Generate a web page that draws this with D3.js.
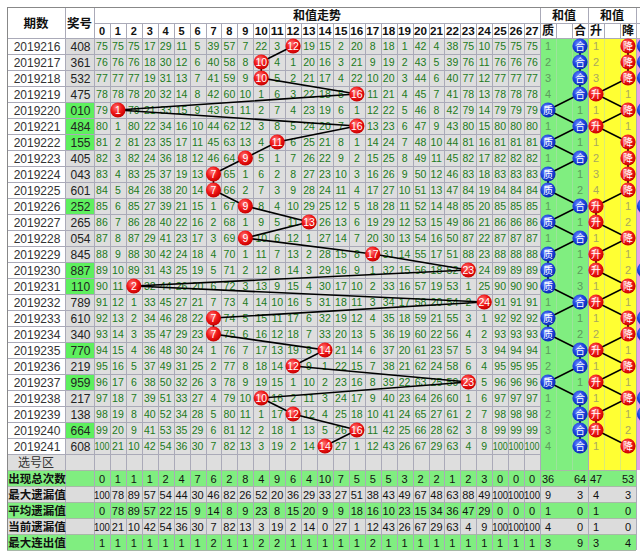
<!DOCTYPE html>
<html><head><meta charset="utf-8">
<script src="https://cdn.jsdelivr.net/npm/d3@7/dist/d3.min.js"></script>
<style>body{margin:0;background:#fff}svg{display:block}</style>
</head><body>
<svg id="c" width="640" height="554"></svg>
<script>
// ---------- data ----------
const periods = ["2019216","2019217","2019218","2019219","2019220","2019221","2019222","2019223","2019224","2019225","2019226","2019227","2019228","2019229","2019230","2019231","2019232","2019233","2019234","2019235","2019236","2019237","2019238","2019239","2019240","2019241"];
const numbers = ["408","361","532","475","010","484","155","405","043","601","252","265","054","845","887","110","789","610","340","770","219","959","217","138","664","608"];
const groupThree = [false,false,false,false,true,true,true,false,false,false,true,false,false,false,true,true,false,false,false,true,false,true,false,false,true,false];
const sums = [12,10,10,16,1,16,11,9,7,7,9,13,9,17,23,2,24,7,7,14,12,23,10,12,16,14];
const sumTicks = [0,1,2,3,4,5,6,7,8,9,10,11,12,13,14,15,16,17,18,19,20,21,22,23,24,25,26,27];
// omission values shown in the first row (2019216)
const firstRowMiss = [75,75,75,17,29,11,5,39,57,7,22,3,null,19,15,2,20,8,18,1,42,4,38,75,10,75,75,75];
const zhihe = ["合","合","合","合","质","合","质","合","质","质","合","质","合","质","质","质","合","质","质","合","合","质","合","合","合","合"];
const shengjiang = ["降","降","降","升","降","升","降","降","降","降","升","升","降","升","升","降","升","降","降","升","降","升","降","升","升","降"];
// rows where the cut-off section at the right edge shows a blue ball in its first column
const edgeBlue = [true,true,true,false,true,false,false,false,false,false,true,false,false,false,true,false,false,true,true,false,false,false,true,true,false,false];
const zhiheCols = ["质","","合"];
const sjCols = ["升","","降"];
const statLabels = ["出现总次数","最大遗漏值","平均遗漏值","当前遗漏值","最大连出值"];
const statTotal  = [0,1,1,1,2,4,7,6,2,8,4,9,6,4,10,7,5,5,5,3,2,2,1,2,3,0,0,0];
const statMaxMiss= [100,78,89,57,54,44,30,46,82,26,52,20,36,29,33,27,51,38,43,49,67,48,63,88,49,100,100,100];
const statAvgMiss= [0,78,89,57,22,15,9,14,8,9,23,8,15,20,9,9,18,16,10,23,15,34,36,47,29,0,0,0];
const statCurMiss= [100,21,10,42,54,36,30,7,82,13,3,19,2,14,0,27,1,12,43,26,67,29,63,4,9,100,100,100];
const statMaxRun = [1,1,1,1,1,1,1,2,1,1,2,2,1,1,1,1,1,2,1,1,1,1,1,1,1,1,1,1];
// right-side stats: [质, 合, 升, 降]
const statRight = [[36,64,47,53],[9,3,4,3],[1,0,1,0],[4,0,1,0],[3,9,3,4]];

// ---------- layout ----------
const svg = d3.select("#c");
const X0=7, XP=65, XN=94, XS=540, XM=588, XR=636, XE=652;
const Y0=7, YH=23, YD=38, RH=16;
const FONT = "'Liberation Sans', Arial, sans-serif";
const CJK = "'Noto Sans CJK SC', sans-serif";
const yRow = d3.scaleBand().domain(periods).range([YD, YD+RH*periods.length]);
const YSel = YD + RH*periods.length;       // 选号区 row top
const yStat = d3.scaleBand().domain(statLabels).range([YSel+RH, YSel+RH+RH*statLabels.length]);
const YB = YSel+RH+RH*statLabels.length;
const xSum = d3.scaleBand().domain(sumTicks).range([XN, XS]);
const xZH = d3.scaleBand().domain([0,1,2]).range([XS, XM]);
const xSJ = d3.scaleBand().domain([0,1,2]).range([XM, XR]);
const cy = p => yRow(p) + RH/2;

// defs
const defs = svg.append("defs");
function grad(id, c1, c2, c3){
  const g = defs.append("radialGradient").attr("id",id).attr("cx","40%").attr("cy","35%").attr("r","65%");
  g.append("stop").attr("offset","0%").attr("stop-color",c1);
  g.append("stop").attr("offset","55%").attr("stop-color",c2);
  g.append("stop").attr("offset","100%").attr("stop-color",c3);
}
grad("gr","#ff7a7a","#f01818","#c80000");
grad("gb","#6f8cff","#1f45e0","#0a2bb0");

// backgrounds
svg.append("rect").attr("width",640).attr("height",554).attr("fill","#fff");
const bg = svg.append("g");
bg.selectAll("rect.num").data(periods).join("rect")
  .attr("x",XP).attr("y",d=>yRow(d)).attr("width",XN-XP).attr("height",RH)
  .attr("fill",(d,i)=>groupThree[i]?"#5ef05e":"#dcdcdc");
bg.append("rect").attr("x",XN).attr("y",YD).attr("width",XS-XN).attr("height",YSel+RH-YD).attr("fill","#dedede");
bg.append("rect").attr("x",X0).attr("y",YSel).attr("width",XN-X0).attr("height",RH).attr("fill","#dedede");
bg.append("rect").attr("x",XS).attr("y",YD).attr("width",XM-XS).attr("height",YSel+RH-YD).attr("fill","#80ee80");
bg.append("rect").attr("x",XM).attr("y",YD).attr("width",XR-XM).attr("height",YSel+RH-YD).attr("fill","#ffff33");
bg.append("rect").attr("x",XR+1).attr("y",YD).attr("width",XE-XR).attr("height",YSel+RH-YD).attr("fill","#e8a0e8");
statLabels.forEach((s,i)=>{
  bg.append("rect").attr("x",X0).attr("y",yStat(s)).attr("width",XR-X0).attr("height",RH)
    .attr("fill", i%2===0 ? "#80ee80" : "#dcdcdc");
});

// grid lines
const grid = svg.append("g").attr("stroke","#aaaab8").attr("stroke-width",1).attr("shape-rendering","crispEdges");
const hY = periods.map(p=>yRow(p)).concat([YSel, YSel+RH]);
grid.selectAll("line.h").data(hY).join("line")
  .attr("x1",X0).attr("x2",XS).attr("y1",d=>d+0.5).attr("y2",d=>d+0.5);
grid.selectAll("line.hs").data(statLabels.map(s=>yStat(s)).concat([YB])).join("line")
  .attr("x1",X0).attr("x2",XR).attr("y1",d=>d+0.5).attr("y2",d=>d+0.5).attr("stroke","#a8b8a8");
grid.selectAll("line.v").data(sumTicks.slice(1)).join("line")
  .attr("x1",d=>Math.round(xSum(d))+0.5).attr("x2",d=>Math.round(xSum(d))+0.5).attr("y1",YH).attr("y2",YB);
[XP,XN,XS,XM,XR].forEach(x=>{
  grid.append("line").attr("x1",x+0.5).attr("x2",x+0.5).attr("y1",Y0).attr("y2",YB);
});
[xZH, xSJ].forEach(sc=>{
  [1,2].forEach(k=>{
    const x=Math.round(sc(k))+0.5;
    grid.append("line").attr("x1",x).attr("x2",x).attr("y1",YH).attr("y2",YD).attr("stroke","#aaaab8");
    grid.append("line").attr("x1",x).attr("x2",x).attr("y1",YD).attr("y2",YSel+RH).attr("stroke","#b8d8b8").attr("stroke-opacity",0.5);
  });
});
grid.append("line").attr("x1",X0).attr("x2",XE).attr("y1",Y0+0.5).attr("y2",Y0+0.5).attr("stroke","#888");
grid.append("line").attr("x1",XN).attr("x2",XE).attr("y1",YH+0.5).attr("y2",YH+0.5);
grid.append("line").attr("x1",X0).attr("x2",XE).attr("y1",YD+0.5).attr("y2",YD+0.5);
grid.append("line").attr("x1",X0+0.5).attr("x2",X0+0.5).attr("y1",Y0).attr("y2",YB).attr("stroke","#888");

// header text
const hdr = svg.append("g").attr("font-family",CJK).attr("font-weight","bold").attr("fill","#111").attr("text-anchor","middle");
hdr.append("text").attr("x",(X0+XP)/2).attr("y",(Y0+YD)/2+5).attr("font-size",12.5).text("期数");
hdr.append("text").attr("x",(XP+XN)/2).attr("y",(Y0+YD)/2+5).attr("font-size",12.5).text("奖号");
hdr.append("text").attr("x",(XN+XS)/2).attr("y",YH-3).attr("font-size",12).text("和值走势");
hdr.append("text").attr("x",(XS+XM)/2).attr("y",YH-3).attr("font-size",12).text("和值");
hdr.append("text").attr("x",(XM+XR)/2).attr("y",YH-3).attr("font-size",12).text("和值");
hdr.selectAll("text.t").data(sumTicks).join("text")
  .attr("x",d=>xSum(d)+xSum.bandwidth()/2).attr("y",YD-3.5)
  .attr("font-family",FONT).attr("font-size",11).text(d=>d)
  .each(function(d){ if(String(d).length>1) d3.select(this).attr("textLength",13).attr("lengthAdjust","spacingAndGlyphs"); });
hdr.selectAll("text.zh").data(zhiheCols).join("text")
  .attr("x",(d,i)=>xZH(i)+8).attr("y",YD-3.5).attr("font-size",12).text(d=>d);
hdr.selectAll("text.sj").data(sjCols).join("text")
  .attr("x",(d,i)=>xSJ(i)+8).attr("y",YD-3.5).attr("font-size",12).text(d=>d);

// period & number text
const tx = svg.append("g").attr("font-family",FONT).attr("text-anchor","middle");
tx.selectAll("text.p").data(periods).join("text")
  .attr("x",(X0+XP)/2+1).attr("y",d=>cy(d)+4.5).attr("font-size",12).attr("fill","#333").text(d=>d);
tx.selectAll("text.n").data(numbers).join("text")
  .attr("x",(XP+XN)/2+1).attr("y",(d,i)=>cy(periods[i])+4.5).attr("font-size",12).attr("fill","#222").text(d=>d);
tx.append("text").attr("x",(X0+XP)/2).attr("y",YSel+RH/2+4.5).attr("font-family",CJK).attr("font-size",12).attr("fill","#333").text("选号区");

// omission cells (counted on from the first row's readings)
const cells = [];
let state = firstRowMiss.map(v=>v===null?0:v-1);
periods.forEach((p,i)=>{
  sumTicks.forEach((t,j)=>{
    if(sums[i]===t){ state[j]=0; }
    else { state[j]=state[j]+1; cells.push({p,t,v:state[j]}); }
  });
});
tx.selectAll("text.c").data(cells).join("text")
  .attr("x",d=>xSum(d.t)+xSum.bandwidth()/2).attr("y",d=>cy(d.p)+4)
  .attr("font-size",10.5).attr("fill","#1b7a1b").text(d=>d.v)
  .each(function(d){ if(String(d.v).length>2) d3.select(this).attr("textLength",15).attr("lengthAdjust","spacingAndGlyphs"); });

// right-side omission counts
let zs=[0,0], ss=[0,0];
const rcells=[];
periods.forEach((p,i)=>{
  const zi = zhihe[i]==="质"?0:1;
  zs[zi]=0; zs[1-zi]++;
  rcells.push({x:xZH(zi===0?2:0)+8, p, v:zs[1-zi]});
  const si = shengjiang[i]==="升"?0:1;
  ss[si]=0; ss[1-si]++;
  rcells.push({x:xSJ(si===0?2:0)+8, p, v:ss[1-si], y:true});
});
tx.selectAll("text.r").data(rcells).join("text")
  .attr("x",d=>d.x).attr("y",d=>cy(d.p)+4).attr("font-size",11)
  .attr("fill",d=>d.y?"#a8a860":"#5c9c5c").text(d=>d.v);

// stats
const statArrays=[statTotal,statMaxMiss,statAvgMiss,statCurMiss,statMaxRun];
statLabels.forEach((s,i)=>{
  const yy=yStat(s)+RH/2+4.5;
  tx.append("text").attr("x",(X0+XP)/2+1).attr("y",yy).attr("font-family",CJK).attr("font-weight","bold")
    .attr("font-size",11.5).attr("fill","#111").text(s);
  tx.selectAll("text.s"+i).data(statArrays[i]).join("text")
    .attr("x",(d,j)=>xSum(j)+xSum.bandwidth()/2).attr("y",yy).attr("font-size",11).attr("fill","#111").text(d=>d)
    .each(function(d){ if(String(d).length>2) d3.select(this).attr("textLength",16).attr("lengthAdjust","spacingAndGlyphs"); });
  const r=statRight[i];
  [[xZH(0),r[0]],[xZH(2),r[1]],[xSJ(0),r[2]],[xSJ(2),r[3]]].forEach(([x,v])=>{
    tx.append("text").attr("x",x+8).attr("y",yy).attr("font-size",11).attr("fill","#111").text(v);
  });
});

// trend lines
const ln = svg.append("g").attr("stroke","#000").attr("stroke-width",1.6).attr("fill","none");
const lineGen = d3.line();
ln.append("path").attr("d",lineGen(periods.map((p,i)=>[xSum(sums[i])+xSum.bandwidth()/2, cy(p)])));
ln.append("path").attr("d",lineGen(periods.map((p,i)=>[xZH(zhihe[i]==="质"?0:2)+8, cy(p)])));
ln.append("path").attr("d",lineGen(periods.map((p,i)=>[xSJ(shengjiang[i]==="升"?0:2)+8, cy(p)])));

// balls
const balls = svg.append("g").attr("text-anchor","middle");
function ball(x,y,fill,label,font,fs){
  balls.append("circle").attr("cx",x).attr("cy",y).attr("r",7.6).attr("fill",fill);
  balls.append("text").attr("x",x).attr("y",y+3.8).attr("font-family",font).attr("font-size",fs).attr("fill","#fff").text(label);
}
periods.forEach((p,i)=>{
  ball(xSum(sums[i])+xSum.bandwidth()/2, cy(p), "url(#gr)", sums[i], FONT, 10.5);
  ball(xZH(zhihe[i]==="质"?0:2)+8, cy(p), "url(#gb)", zhihe[i], CJK, 10);
  ball(xSJ(shengjiang[i]==="升"?0:2)+8, cy(p), "url(#gr)", shengjiang[i], CJK, 10);
  if(edgeBlue[i]) balls.append("circle").attr("cx",XR+8.5).attr("cy",cy(p)).attr("r",7.6).attr("fill","url(#gb)");
});
</script>
</body></html>
